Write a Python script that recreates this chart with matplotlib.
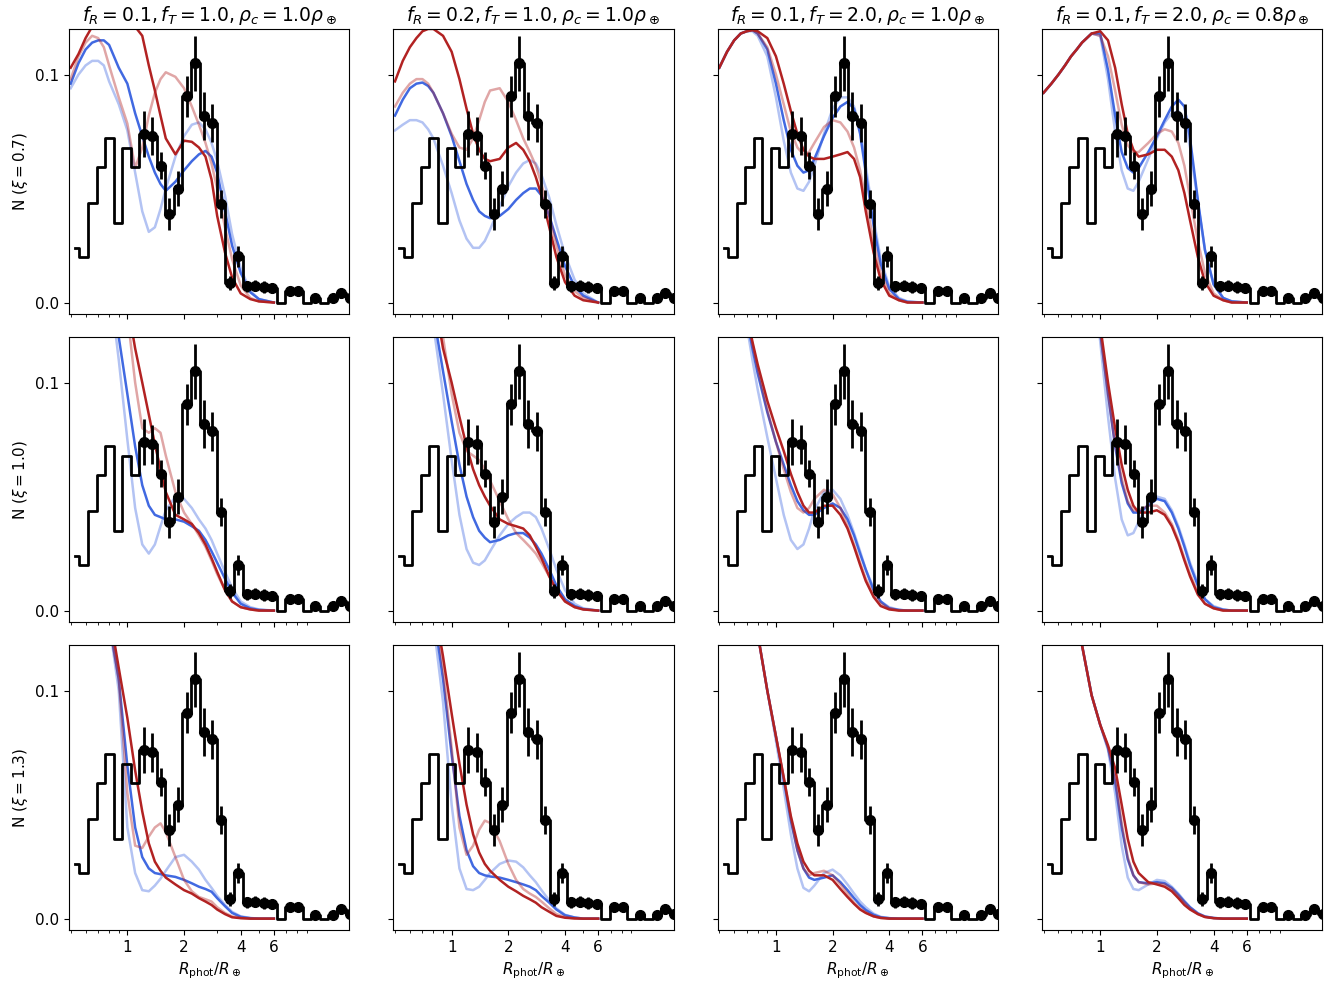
import numpy as np
import matplotlib
matplotlib.use("Agg")
import matplotlib.pyplot as plt
from matplotlib.ticker import NullFormatter, FixedLocator

plt.rcParams["font.size"] = 11

# observed radius histogram: log bins from 0.5 to 16 R_earth
hist_edges = np.logspace(np.log10(0.5), np.log10(16.0), 34)
hist_vals = [0.024, 0.020, 0.0435, 0.0595, 0.072, 0.035, 0.068, 0.0595,
             0.074, 0.073, 0.060, 0.039, 0.050, 0.0904, 0.105, 0.082,
             0.0787, 0.0432, 0.0086, 0.0202, 0.0071, 0.0074, 0.0069, 0.0064,
             0.0, 0.0049, 0.0049, 0.0, 0.0018, 0.0, 0.0018, 0.0042, 0.002]
hist_err = [0, 0, 0, 0, 0, 0, 0, 0,
            0.010, 0.0085, 0.006, 0.007, 0.0076, 0.009, 0.012, 0.0105,
            0.0085, 0.0062, 0.003, 0.0044, 0.0025, 0.0025, 0.0025, 0.0022,
            0, 0.002, 0.002, 0, 0.0012, 0, 0.0012, 0.002, 0.0012]
first_err_bin = 8

titles = [r"$f_R = 0.1, f_T = 1.0, \rho_c = 1.0\rho_\oplus$",
          r"$f_R = 0.2, f_T = 1.0, \rho_c = 1.0\rho_\oplus$",
          r"$f_R = 0.1, f_T = 2.0, \rho_c = 1.0\rho_\oplus$",
          r"$f_R = 0.1, f_T = 2.0, \rho_c = 0.8\rho_\oplus$"]
xi_values = ["0.7", "1.0", "1.3"]

# model radius grid
r_model = [0.5, 0.55, 0.6, 0.65, 0.7, 0.75, 0.8, 0.9, 1.0, 1.1, 1.2, 1.3, 1.4, 1.5,
           1.6, 1.8, 2.0, 2.2, 2.4, 2.6, 2.8, 3.0, 3.3, 3.6, 4.0, 4.5, 5.0, 6.0]

# xi = 0.7
red_xi07 = [
    [0.103, 0.109, 0.116, 0.121, 0.124, 0.126, 0.127, 0.127, 0.125, 0.121, 0.117, 0.104, 0.093, 0.082, 0.072, 0.065, 0.071, 0.0705, 0.068, 0.064, 0.054, 0.038, 0.022, 0.011, 0.004, 0.0015, 0.0005, 0.0],
    [0.097, 0.106, 0.112, 0.116, 0.119, 0.12, 0.12, 0.117, 0.110, 0.098, 0.085, 0.074, 0.067, 0.063, 0.062, 0.063, 0.068, 0.070, 0.067, 0.062, 0.055, 0.047, 0.033, 0.020, 0.009, 0.003, 0.001, 0.0],
    [0.103, 0.110, 0.115, 0.118, 0.119, 0.1195, 0.119, 0.116, 0.108, 0.096, 0.084, 0.074, 0.067, 0.064, 0.063, 0.063, 0.064, 0.065, 0.066, 0.063, 0.055, 0.040, 0.022, 0.010, 0.003, 0.001, 0.0, 0.0],
    [0.092, 0.096, 0.100, 0.104, 0.108, 0.111, 0.114, 0.118, 0.119, 0.115, 0.103, 0.087, 0.074, 0.067, 0.064, 0.065, 0.067, 0.067, 0.064, 0.058, 0.048, 0.036, 0.020, 0.009, 0.003, 0.001, 0.0, 0.0],
]
pink_xi07 = [
    [0.098, 0.108, 0.114, 0.117, 0.116, 0.112, 0.104, 0.090, 0.0785, 0.059, 0.068, 0.082, 0.092, 0.098, 0.101, 0.099, 0.094, 0.086, 0.078, 0.070, 0.061, 0.050, 0.033, 0.019, 0.0075, 0.002, 0.0005, 0.0],
    [0.086, 0.092, 0.096, 0.098, 0.098, 0.096, 0.092, 0.083, 0.074, 0.068, 0.067, 0.072, 0.080, 0.088, 0.093, 0.094, 0.088, 0.080, 0.072, 0.066, 0.060, 0.052, 0.038, 0.025, 0.012, 0.005, 0.002, 0.0],
    [0.103, 0.110, 0.115, 0.118, 0.119, 0.1195, 0.118, 0.112, 0.100, 0.087, 0.075, 0.068, 0.065, 0.066, 0.070, 0.077, 0.080, 0.079, 0.075, 0.068, 0.058, 0.045, 0.027, 0.013, 0.004, 0.001, 0.0, 0.0],
    [0.092, 0.096, 0.100, 0.104, 0.108, 0.111, 0.114, 0.118, 0.117, 0.108, 0.093, 0.078, 0.069, 0.066, 0.066, 0.070, 0.074, 0.076, 0.075, 0.070, 0.060, 0.046, 0.027, 0.013, 0.004, 0.001, 0.0, 0.0],
]
blue_xi07 = [
    [0.096, 0.105, 0.111, 0.114, 0.115, 0.115, 0.113, 0.103, 0.096, 0.083, 0.073, 0.064, 0.057, 0.052, 0.049, 0.053, 0.058, 0.062, 0.065, 0.0665, 0.064, 0.057, 0.040, 0.025, 0.013, 0.0045, 0.0015, 0.0],
    [0.082, 0.089, 0.094, 0.096, 0.0965, 0.095, 0.092, 0.083, 0.073, 0.062, 0.052, 0.045, 0.040, 0.038, 0.037, 0.038, 0.041, 0.045, 0.048, 0.050, 0.050, 0.047, 0.038, 0.028, 0.016, 0.007, 0.003, 0.0],
    [0.103, 0.110, 0.115, 0.118, 0.119, 0.1195, 0.118, 0.111, 0.096, 0.080, 0.067, 0.060, 0.057, 0.058, 0.063, 0.073, 0.081, 0.086, 0.088, 0.085, 0.074, 0.057, 0.034, 0.017, 0.006, 0.0015, 0.0003, 0.0],
    [0.092, 0.096, 0.100, 0.104, 0.108, 0.111, 0.114, 0.118, 0.118, 0.102, 0.082, 0.066, 0.059, 0.057, 0.059, 0.066, 0.073, 0.080, 0.086, 0.089, 0.086, 0.072, 0.045, 0.023, 0.008, 0.002, 0.0005, 0.0],
]
ltblue_xi07 = [
    [0.094, 0.100, 0.104, 0.106, 0.106, 0.104, 0.097, 0.087, 0.0755, 0.057, 0.040, 0.031, 0.033, 0.041, 0.050, 0.064, 0.073, 0.078, 0.079, 0.076, 0.070, 0.062, 0.047, 0.030, 0.015, 0.005, 0.0015, 0.0],
    [0.0755, 0.078, 0.080, 0.080, 0.079, 0.076, 0.072, 0.060, 0.048, 0.036, 0.028, 0.024, 0.024, 0.027, 0.032, 0.042, 0.051, 0.057, 0.061, 0.0625, 0.061, 0.056, 0.046, 0.034, 0.021, 0.010, 0.004, 0.0],
    [0.103, 0.110, 0.115, 0.118, 0.119, 0.119, 0.117, 0.108, 0.090, 0.071, 0.057, 0.050, 0.049, 0.053, 0.060, 0.074, 0.085, 0.090, 0.090, 0.086, 0.076, 0.060, 0.037, 0.019, 0.007, 0.002, 0.0005, 0.0],
    [0.092, 0.096, 0.100, 0.104, 0.108, 0.111, 0.114, 0.118, 0.117, 0.098, 0.075, 0.058, 0.050, 0.049, 0.053, 0.063, 0.072, 0.079, 0.083, 0.084, 0.080, 0.068, 0.044, 0.023, 0.008, 0.002, 0.0005, 0.0],
]

# xi = 1.0
red_xi10 = [
    [0.30, 0.28, 0.26, 0.24, 0.22, 0.205, 0.19, 0.16, 0.135, 0.115, 0.100, 0.086, 0.073, 0.062, 0.052, 0.042, 0.040, 0.038, 0.034, 0.029, 0.023, 0.017, 0.009, 0.004, 0.0015, 0.0005, 0.0, 0.0],
    [0.24, 0.22, 0.20, 0.185, 0.17, 0.155, 0.14, 0.115, 0.100, 0.085, 0.072, 0.062, 0.055, 0.050, 0.046, 0.040, 0.038, 0.037, 0.036, 0.033, 0.028, 0.023, 0.015, 0.009, 0.004, 0.0015, 0.0005, 0.0],
    [0.22, 0.195, 0.17, 0.15, 0.13, 0.118, 0.108, 0.092, 0.080, 0.070, 0.060, 0.052, 0.046, 0.043, 0.043, 0.046, 0.046, 0.042, 0.036, 0.028, 0.020, 0.013, 0.006, 0.002, 0.0005, 0.0, 0.0, 0.0],
    [0.30, 0.28, 0.25, 0.23, 0.21, 0.195, 0.18, 0.15, 0.125, 0.100, 0.080, 0.064, 0.053, 0.046, 0.043, 0.043, 0.044, 0.042, 0.037, 0.030, 0.022, 0.015, 0.007, 0.003, 0.001, 0.0, 0.0, 0.0],
]
pink_xi10 = [
    [0.30, 0.28, 0.26, 0.24, 0.22, 0.205, 0.19, 0.16, 0.13, 0.10, 0.080, 0.078, 0.080, 0.078, 0.068, 0.052, 0.043, 0.038, 0.033, 0.028, 0.022, 0.016, 0.009, 0.004, 0.0015, 0.0005, 0.0, 0.0],
    [0.24, 0.22, 0.20, 0.185, 0.17, 0.155, 0.14, 0.12, 0.095, 0.078, 0.070, 0.068, 0.066, 0.062, 0.057, 0.048, 0.040, 0.034, 0.031, 0.028, 0.025, 0.021, 0.015, 0.009, 0.004, 0.0015, 0.0005, 0.0],
    [0.22, 0.195, 0.17, 0.15, 0.13, 0.117, 0.106, 0.088, 0.074, 0.062, 0.052, 0.045, 0.043, 0.045, 0.049, 0.053, 0.051, 0.045, 0.037, 0.029, 0.021, 0.014, 0.007, 0.003, 0.001, 0.0, 0.0, 0.0],
    [0.30, 0.28, 0.25, 0.23, 0.21, 0.195, 0.18, 0.15, 0.122, 0.095, 0.073, 0.058, 0.048, 0.044, 0.044, 0.046, 0.046, 0.043, 0.038, 0.031, 0.023, 0.016, 0.008, 0.003, 0.001, 0.0, 0.0, 0.0],
]
blue_xi10 = [
    [0.26, 0.24, 0.22, 0.20, 0.18, 0.165, 0.15, 0.12, 0.095, 0.072, 0.055, 0.046, 0.042, 0.041, 0.040, 0.040, 0.039, 0.037, 0.035, 0.031, 0.026, 0.021, 0.014, 0.008, 0.003, 0.001, 0.0003, 0.0],
    [0.23, 0.21, 0.19, 0.175, 0.16, 0.145, 0.13, 0.105, 0.083, 0.064, 0.050, 0.041, 0.035, 0.032, 0.030, 0.031, 0.033, 0.034, 0.034, 0.032, 0.029, 0.025, 0.018, 0.011, 0.005, 0.002, 0.0007, 0.0],
    [0.22, 0.195, 0.17, 0.148, 0.128, 0.115, 0.104, 0.087, 0.074, 0.064, 0.055, 0.048, 0.044, 0.042, 0.042, 0.045, 0.047, 0.045, 0.040, 0.033, 0.025, 0.018, 0.009, 0.004, 0.001, 0.0003, 0.0, 0.0],
    [0.30, 0.28, 0.25, 0.23, 0.21, 0.195, 0.18, 0.15, 0.122, 0.095, 0.072, 0.056, 0.047, 0.043, 0.043, 0.046, 0.049, 0.048, 0.043, 0.036, 0.028, 0.020, 0.011, 0.005, 0.0015, 0.0004, 0.0, 0.0],
]
ltblue_xi10 = [
    [0.26, 0.24, 0.22, 0.20, 0.18, 0.16, 0.145, 0.11, 0.075, 0.045, 0.029, 0.025, 0.029, 0.037, 0.044, 0.050, 0.049, 0.045, 0.040, 0.036, 0.031, 0.025, 0.017, 0.010, 0.004, 0.0015, 0.0005, 0.0],
    [0.23, 0.21, 0.19, 0.17, 0.155, 0.14, 0.125, 0.095, 0.066, 0.042, 0.027, 0.021, 0.020, 0.022, 0.026, 0.033, 0.038, 0.041, 0.043, 0.043, 0.041, 0.036, 0.027, 0.018, 0.009, 0.003, 0.001, 0.0],
    [0.22, 0.195, 0.17, 0.147, 0.125, 0.11, 0.097, 0.076, 0.058, 0.042, 0.031, 0.027, 0.029, 0.036, 0.044, 0.052, 0.053, 0.049, 0.042, 0.034, 0.026, 0.018, 0.010, 0.004, 0.0015, 0.0003, 0.0, 0.0],
    [0.30, 0.28, 0.25, 0.23, 0.21, 0.195, 0.18, 0.15, 0.118, 0.085, 0.058, 0.040, 0.033, 0.034, 0.039, 0.047, 0.050, 0.049, 0.044, 0.037, 0.029, 0.021, 0.012, 0.005, 0.002, 0.0005, 0.0, 0.0],
]

# xi = 1.3
red_xi13 = [
    [0.30, 0.26, 0.22, 0.19, 0.17, 0.15, 0.135, 0.11, 0.088, 0.065, 0.047, 0.033, 0.025, 0.021, 0.018, 0.015, 0.0125, 0.011, 0.009, 0.0075, 0.006, 0.004, 0.002, 0.0006, 0.0002, 0.0, 0.0, 0.0],
    [0.30, 0.26, 0.22, 0.19, 0.17, 0.155, 0.14, 0.115, 0.090, 0.068, 0.050, 0.037, 0.029, 0.024, 0.021, 0.017, 0.014, 0.012, 0.010, 0.0085, 0.007, 0.005, 0.003, 0.0012, 0.0004, 0.0001, 0.0, 0.0],
    [0.25, 0.22, 0.19, 0.17, 0.155, 0.138, 0.125, 0.100, 0.080, 0.062, 0.045, 0.033, 0.025, 0.021, 0.019, 0.019, 0.017, 0.013, 0.0095, 0.0065, 0.004, 0.0025, 0.001, 0.0003, 0.0, 0.0, 0.0, 0.0],
    [0.25, 0.22, 0.19, 0.17, 0.15, 0.135, 0.12, 0.098, 0.085, 0.076, 0.066, 0.050, 0.035, 0.025, 0.020, 0.016, 0.015, 0.014, 0.012, 0.009, 0.006, 0.004, 0.002, 0.0007, 0.0002, 0.0, 0.0, 0.0],
]
pink_xi13 = [
    [0.30, 0.26, 0.22, 0.19, 0.17, 0.15, 0.13, 0.105, 0.055, 0.032, 0.031, 0.036, 0.040, 0.0418, 0.038, 0.027, 0.017, 0.012, 0.0095, 0.0085, 0.0075, 0.005, 0.0025, 0.001, 0.0003, 0.0, 0.0, 0.0],
    [0.30, 0.26, 0.22, 0.19, 0.17, 0.155, 0.14, 0.11, 0.075, 0.040, 0.028, 0.032, 0.039, 0.043, 0.042, 0.034, 0.024, 0.017, 0.013, 0.011, 0.0095, 0.0075, 0.0045, 0.002, 0.0007, 0.0, 0.0, 0.0],
    [0.25, 0.22, 0.19, 0.17, 0.155, 0.138, 0.125, 0.100, 0.080, 0.062, 0.044, 0.030, 0.022, 0.019, 0.020, 0.021, 0.019, 0.015, 0.011, 0.007, 0.0045, 0.0027, 0.001, 0.0003, 0.0, 0.0, 0.0, 0.0],
    [0.25, 0.22, 0.19, 0.17, 0.15, 0.135, 0.12, 0.098, 0.085, 0.075, 0.062, 0.042, 0.027, 0.019, 0.016, 0.015, 0.0155, 0.015, 0.013, 0.010, 0.007, 0.0045, 0.002, 0.0008, 0.0002, 0.0, 0.0, 0.0],
]
blue_xi13 = [
    [0.30, 0.26, 0.22, 0.19, 0.17, 0.15, 0.13, 0.105, 0.067, 0.040, 0.027, 0.022, 0.020, 0.0195, 0.019, 0.0183, 0.017, 0.0155, 0.014, 0.013, 0.0118, 0.009, 0.0055, 0.0025, 0.0008, 0.0002, 0.0, 0.0],
    [0.30, 0.26, 0.22, 0.19, 0.17, 0.15, 0.135, 0.105, 0.072, 0.045, 0.030, 0.023, 0.020, 0.019, 0.0185, 0.018, 0.017, 0.016, 0.015, 0.014, 0.0125, 0.010, 0.007, 0.004, 0.0015, 0.0005, 0.0, 0.0],
    [0.25, 0.22, 0.19, 0.17, 0.155, 0.138, 0.125, 0.100, 0.080, 0.061, 0.043, 0.030, 0.022, 0.018, 0.017, 0.018, 0.019, 0.016, 0.0125, 0.009, 0.006, 0.0038, 0.0017, 0.0006, 0.0002, 0.0, 0.0, 0.0],
    [0.25, 0.22, 0.19, 0.17, 0.15, 0.135, 0.12, 0.098, 0.085, 0.075, 0.060, 0.040, 0.026, 0.019, 0.016, 0.0155, 0.016, 0.0155, 0.0135, 0.0105, 0.0075, 0.005, 0.0023, 0.0009, 0.0003, 0.0, 0.0, 0.0],
]
ltblue_xi13 = [
    [0.30, 0.26, 0.22, 0.19, 0.17, 0.15, 0.13, 0.10, 0.040, 0.020, 0.0125, 0.012, 0.0145, 0.0175, 0.021, 0.027, 0.028, 0.025, 0.0215, 0.017, 0.0135, 0.010, 0.006, 0.003, 0.001, 0.0003, 0.0, 0.0],
    [0.30, 0.26, 0.22, 0.19, 0.17, 0.15, 0.13, 0.095, 0.050, 0.022, 0.013, 0.0125, 0.014, 0.017, 0.020, 0.024, 0.0255, 0.025, 0.0225, 0.019, 0.016, 0.0125, 0.008, 0.0045, 0.0017, 0.0005, 0.0, 0.0],
    [0.25, 0.22, 0.19, 0.17, 0.155, 0.138, 0.125, 0.100, 0.078, 0.057, 0.037, 0.022, 0.0135, 0.012, 0.0145, 0.020, 0.0215, 0.019, 0.015, 0.011, 0.0075, 0.005, 0.0022, 0.0008, 0.0002, 0.0, 0.0, 0.0],
    [0.25, 0.22, 0.19, 0.17, 0.15, 0.135, 0.12, 0.098, 0.085, 0.074, 0.055, 0.032, 0.018, 0.013, 0.0125, 0.015, 0.017, 0.0165, 0.014, 0.011, 0.0078, 0.005, 0.0024, 0.001, 0.0003, 0.0, 0.0, 0.0],
]

rows = [
    (red_xi07, pink_xi07, blue_xi07, ltblue_xi07),
    (red_xi10, pink_xi10, blue_xi10, ltblue_xi10),
    (red_xi13, pink_xi13, blue_xi13, ltblue_xi13),
]

centers = np.sqrt(hist_edges[:-1] * hist_edges[1:])
hv = np.array(hist_vals)
he = np.array(hist_err)
pts = (np.arange(len(hv)) >= first_err_bin) & (hv > 0)

fig, axes = plt.subplots(3, 4, figsize=(13.43, 9.85), dpi=100, sharex=True, sharey=True)
fig.subplots_adjust(left=0.0514, right=0.9845, top=0.9706, bottom=0.0558,
                    wspace=0.157, hspace=0.081)

for i, (red, pink, blue, ltblue) in enumerate(rows):
    for j in range(4):
        ax = axes[i, j]
        ax.plot(r_model, ltblue[j], color="royalblue", alpha=0.4, lw=1.8)
        ax.plot(r_model, blue[j], color="royalblue", lw=1.8)
        ax.plot(r_model, pink[j], color="firebrick", alpha=0.4, lw=1.8)
        ax.plot(r_model, red[j], color="firebrick", lw=1.8)
        ax.step(centers, hv, where="mid", color="k", lw=2)
        ax.errorbar(centers[pts], hv[pts], yerr=he[pts], fmt="o", color="k",
                    ms=7, elinewidth=2, capsize=0)
        ax.set_xscale("log")
        ax.set_xlim(0.49, 15.1)
        ax.set_ylim(-0.005, 0.12)
        ax.xaxis.set_major_locator(FixedLocator([1, 2, 4, 6]))
        ax.xaxis.set_minor_formatter(NullFormatter())
        ax.set_yticks([0.0, 0.1])
        if i == 0:
            ax.set_title(titles[j], fontsize=13.5)
        if i == 2:
            ax.set_xticklabels(["1", "2", "4", "6"])
            ax.set_xlabel(r"$R_{\rm phot}/R_\oplus$")
        if j == 0:
            ax.set_yticklabels(["0.0", "0.1"])
            ax.set_ylabel(r"N ($\xi = %s$)" % xi_values[i])

fig.savefig("out.png", dpi=100)
